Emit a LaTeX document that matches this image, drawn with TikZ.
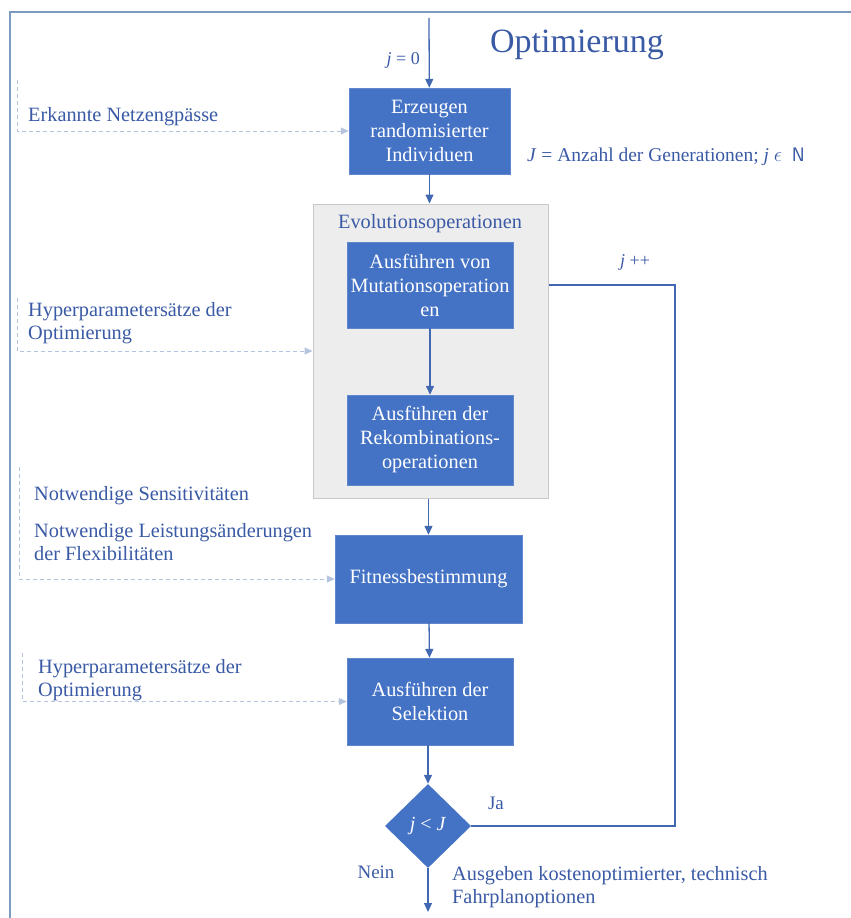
\documentclass[tikz,border=0pt]{standalone}
\usepackage{fontspec}
\setmainfont{Liberation Serif}
\usepackage{tikz}
\usetikzlibrary{arrows.meta,positioning,shapes.geometric}
\definecolor{boxblue}{RGB}{68,114,196}
\definecolor{lineblue}{RGB}{66,104,178}
\definecolor{textblue}{RGB}{58,90,165}
\definecolor{dashblue}{RGB}{180,196,222}
\definecolor{evogray}{RGB}{237,237,237}
\definecolor{evoframe}{RGB}{200,200,200}
\definecolor{frameblue}{RGB}{125,155,192}
\tikzstyle{opbox}=[rectangle,fill=boxblue,draw=boxblue!85!white,text=white,align=center,
                  font=\fontsize{20.3}{24}\selectfont,inner sep=1pt]
\tikzstyle{arrow}=[-{Triangle[length=9pt,width=8pt]},draw=lineblue,line width=1.3pt]
\tikzstyle{inarrow}=[-{Triangle[length=8pt,width=7pt]},draw=dashblue,
                  dash pattern=on 4pt off 3pt,line width=1pt]
\tikzstyle{intext}=[text=textblue,font=\fontsize{20.3}{23}\selectfont,align=left,inner sep=0pt]

\begin{document}
\begin{tikzpicture}[x=1pt,y=-1pt]
  \useasboundingbox (0,0) rectangle (851,918);
  \draw[frameblue,line width=1.5pt] (851,12) -- (10,12) -- (10,918);
  \node[text=textblue,font=\fontsize{34}{40}\selectfont,inner sep=0pt] (title) at (577,45) {Optimierung};
  % main chain
  \coordinate (start) at (429,18);
  \node[opbox,minimum width=161pt,minimum height=86pt] (erz) at (429.5,131) {Erzeugen\\randomisierter\\Individuen};
  \node[anchor=east,text=textblue,font=\fontsize{18}{20}\selectfont,inner sep=0pt] (jnull) at (420,60) {\textit{j} = 0};
  \node[anchor=west,text=textblue,font=\fontsize{19.5}{22}\selectfont,inner sep=0pt] (anzahl) at (527,157)
       {\textit{J} = Anzahl der Generationen; \textit{j} $\epsilon$\enspace\textsf{N}};
  \node[rectangle,fill=evogray,draw=evoframe,line width=1pt,minimum width=235pt,minimum height=294pt] (evo) at (430.5,351) {};
  \node[text=textblue,font=\fontsize{20.3}{23}\selectfont,inner sep=0pt] (evotitle) at (430,224) {Evolutionsoperationen};
  \node[opbox,minimum width=166pt,minimum height=86pt] (mut) at (430,285) {Ausführen von\\Mutationsoperation\\en};
  \node[opbox,minimum width=166pt,minimum height=90pt] (rek) at (430,440) {Ausführen der\\Rekombinations-\\operationen};
  \node[opbox,minimum width=187pt,minimum height=88pt] (fit) at (428.5,579) {Fitnessbestimmung};
  \node[opbox,minimum width=166pt,minimum height=87pt] (sel) at (430,701.5) {Ausführen der\\Selektion};
  \node[diamond,fill=boxblue,text=white,minimum width=86pt,minimum height=84pt,inner sep=0pt,
        font=\fontsize{20}{23}\selectfont] (dec) at (428,826) {\textit{j} < \textit{J}};
  \coordinate (ende) at (428,912);
  \draw[arrow] (start) -- (erz);
  \draw[arrow] (erz) -- (evo.north -| erz);
  \draw[arrow] (mut) -- (rek);
  \draw[arrow] (evo.south -| fit) -- (fit);
  \draw[arrow] (fit) -- (sel);
  \draw[arrow] (sel.south -| dec) -- (dec);
  \draw[arrow] (dec) -- (ende);
  \node[text=textblue,font=\fontsize{19}{22}\selectfont,inner sep=0pt] (nein) at (376,872) {Nein};
  \node[anchor=north west,intext] (ausgabe) at (452,866) {Ausgeben kostenoptimierter, technisch\\Fahrplanoptionen};
  % loop back
  \coordinate (loopcorner) at (675,285);
  \draw[lineblue,line width=1.3pt] (dec.east) -| (loopcorner) -- (evo.east |- loopcorner);
  \node[text=textblue,font=\fontsize{19}{22}\selectfont,inner sep=0pt] (ja) at (496,803) {Ja};
  \node[text=textblue,font=\fontsize{18}{20}\selectfont,inner sep=0pt] (jplus) at (635,262) {\textit{j} ++};
  % inputs
  \coordinate (in1) at (17,80);
  \coordinate (in2) at (17,298);
  \coordinate (in3) at (19,467);
  \coordinate (in4) at (22,653);
  \draw[inarrow] (in1) |- (erz.west);
  \draw[inarrow] (in2) |- (evo.west);
  \draw[inarrow] (in3) |- (fit.west);
  \draw[inarrow] (in4) |- (sel.west);
  \node[anchor=west,intext] (netz) at (28,117) {Erkannte Netzengpässe};
  \node[anchor=north west,intext] (hyper) at (28,302) {Hyperparametersätze der\\Optimierung};
  \node[anchor=west,intext] (sensi) at (34,496) {Notwendige Sensitivitäten};
  \node[anchor=north west,intext] (leist) at (34,523) {Notwendige Leistungsänderungen\\der Flexibilitäten};
  \node[anchor=north west,intext] (hypersel) at (38,659) {Hyperparametersätze der\\Optimierung};
\end{tikzpicture}
\end{document}
